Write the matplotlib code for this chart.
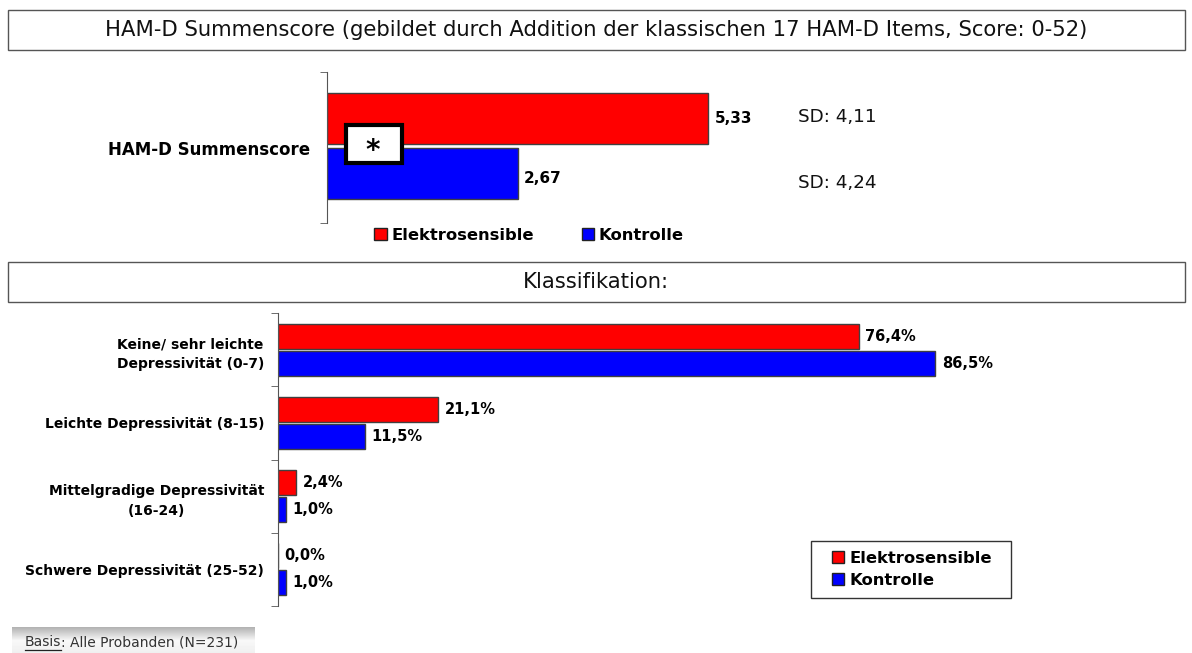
import matplotlib
matplotlib.use("Agg")
import matplotlib.pyplot as plt
import numpy as np
from matplotlib.patches import Rectangle, Patch
from matplotlib.lines import Line2D

# ---------------- data ----------------
title_top = "HAM-D Summenscore (gebildet durch Addition der klassischen 17 HAM-D Items, Score: 0-52)"
title_bottom = "Klassifikation:"
top_category = ["HAM-D Summenscore"]
top_elektro = [5.33]
top_kontrolle = [2.67]
top_sd = ["SD: 4,11", "SD: 4,24"]

categories = ["Keine/ sehr leichte\nDepressivität (0-7)",
              "Leichte Depressivität (8-15)",
              "Mittelgradige Depressivität\n(16-24)",
              "Schwere Depressivität (25-52)"]
elektro_pct = [76.4, 21.1, 2.4, 0.0]
kontrolle_pct = [86.5, 11.5, 1.0, 1.0]
series_names = ["Elektrosensible", "Kontrolle"]
basis_text = ["Basis", ": Alle Probanden (N=231)"]

RED = "#ff0000"
BLUE = "#0000ff"
EDGE = "#404040"
W, H = 1192, 653

def fx(px):
    return px / W

def fy(py):
    return 1 - py / H

def de(v, nd):
    return f"{v:.{nd}f}".replace(".", ",")

fig = plt.figure(figsize=(W / 100, H / 100), dpi=100)
fig.patch.set_facecolor("white")

# ---------------- title boxes ----------------
for (y0, y1, txt) in [(10, 50, title_top), (262, 302, title_bottom)]:
    fig.add_artist(Rectangle((fx(8), fy(y1)), fx(1185) - fx(8), fy(y0) - fy(y1),
                             transform=fig.transFigure, facecolor="white",
                             edgecolor="#555555", linewidth=1.0))
    fig.text(fx(596), fy((y0 + y1) / 2), txt, ha="center", va="center",
             fontsize=15.2, color="#111111")

# ---------------- top chart ----------------
ax1 = fig.add_axes([fx(327), fy(223), fx(786.5), 151 / H])
ax1.set_xlim(0, 11)
ax1.set_ylim(0, 1)
pos = np.arange(len(top_category)) + 0.5
off_r, off_b = 0.189, 0.175
bh = 0.338
b1 = ax1.barh(pos + off_r, top_elektro, height=bh, color=RED, edgecolor=EDGE, linewidth=1)
b2 = ax1.barh(pos - off_b, top_kontrolle, height=bh, color=BLUE, edgecolor=EDGE, linewidth=1)
for rect, v in zip(b1, top_elektro):
    ax1.annotate(de(v, 2), (v, rect.get_y() + rect.get_height() / 2), xytext=(4.5, 0),
                 textcoords="offset points", ha="left", va="center",
                 fontsize=11, fontweight="bold")
for rect, v in zip(b2, top_kontrolle):
    ax1.annotate(de(v, 2), (v, rect.get_y() + rect.get_height() / 2), xytext=(4.5, -3),
                 textcoords="offset points", ha="left", va="center",
                 fontsize=11, fontweight="bold")
sd_x = (798 - 327) / 71.5
ax1.annotate(top_sd[0], (sd_x, pos[0] + off_r), xytext=(0, 1.5),
             textcoords="offset points", ha="left", va="center", fontsize=13.2,
             color="#111111")
ax1.annotate(top_sd[1], (sd_x, pos[0] - off_b), xytext=(0, -6.5),
             textcoords="offset points", ha="left", va="center", fontsize=13.2,
             color="#111111")
for s in ["top", "right", "bottom"]:
    ax1.spines[s].set_visible(False)
ax1.spines["left"].set_color("#555555")
ax1.set_xticks([])
ax1.set_yticks(pos)
ax1.set_yticklabels(top_category, fontsize=12, fontweight="bold")
ax1.tick_params(axis="y", length=0, pad=12)
ax1.set_yticks([0, 1], minor=True)
ax1.tick_params(axis="y", which="minor", length=5, color="#555555")

# star box
fig.add_artist(Rectangle((fx(346), fy(163)), fx(56), 38 / H, transform=fig.transFigure,
                         facecolor="white", edgecolor="black", linewidth=3, zorder=5))
fig.text(fx(373), fy(159), "*", ha="center", va="baseline", fontsize=20,
         fontweight="bold", zorder=6)

handles = [Patch(facecolor=RED, edgecolor="#222222", linewidth=1),
           Patch(facecolor=BLUE, edgecolor="#222222", linewidth=1)]
leg1 = fig.legend(handles, series_names, loc="center", bbox_to_anchor=(fx(529), fy(235)),
                  ncol=2, frameon=False, handlelength=0.75, handleheight=0.75,
                  handletextpad=0.3, columnspacing=2.9, borderpad=0, borderaxespad=0,
                  prop={"size": 11.8, "weight": "bold"})

# ---------------- bottom chart ----------------
ax2 = fig.add_axes([fx(278), fy(606), fx(760), 293 / H])
ax2.set_xlim(0, 100)
n = len(categories)
y = np.arange(n)
ax2.set_ylim(n - 0.5, -0.5)
off2 = 0.184
bh2 = 0.34
r1 = ax2.barh(y - off2, elektro_pct, height=bh2, color=RED, edgecolor=EDGE, linewidth=1)
r2 = ax2.barh(y + off2, kontrolle_pct, height=bh2, color=BLUE, edgecolor=EDGE, linewidth=1)
for bars, vals in [(r1, elektro_pct), (r2, kontrolle_pct)]:
    for rect, v in zip(bars, vals):
        ax2.annotate(de(v, 1) + "%", (v, rect.get_y() + rect.get_height() / 2),
                     xytext=(4.5, 0), textcoords="offset points", ha="left",
                     va="center", fontsize=10.5, fontweight="bold")
for s in ["top", "right", "bottom"]:
    ax2.spines[s].set_visible(False)
ax2.spines["left"].set_color("#555555")
ax2.set_xticks([])
ax2.set_yticks(y)
ax2.set_yticklabels(categories, fontsize=10, fontweight="bold",
                    multialignment="center", linespacing=1.55)
ax2.tick_params(axis="y", length=0, pad=10)
ax2.set_yticks(np.arange(n + 1) - 0.5, minor=True)
ax2.tick_params(axis="y", which="minor", length=5, color="#555555")

fig.add_artist(Rectangle((fx(811), fy(598)), fx(200), 57 / H, transform=fig.transFigure,
                         facecolor="white", edgecolor="#333333", linewidth=1.0, zorder=3))
leg2 = fig.legend(handles, series_names, loc="center", bbox_to_anchor=(fx(912), fy(569.5)),
                  ncol=1, frameon=False, handlelength=0.75,
                  handleheight=0.75, handletextpad=0.3, labelspacing=0.45,
                  borderpad=0, borderaxespad=0,
                  prop={"size": 11.8, "weight": "bold"})
leg2.set_zorder(4)

# ---------------- basis box ----------------
axb = fig.add_axes([fx(12), fy(653), fx(243), 26 / H])
grad = np.concatenate([np.linspace(0.70, 0.97, 14), np.linspace(0.97, 0.94, 12)])
axb.imshow(np.tile(grad[:, None], (1, 50)), cmap="gray", vmin=0, vmax=1,
           aspect="auto", extent=(0, 1, 0, 1), origin="upper")
axb.set_axis_off()
t1 = fig.text(fx(25), fy(642), basis_text[0], ha="left", va="center", fontsize=10,
              color="#333333")
fig.canvas.draw()
bb = t1.get_window_extent()
t2 = fig.text(bb.x1 / W, fy(642), basis_text[1], ha="left", va="center", fontsize=10,
              color="#333333")
fig.add_artist(Line2D([bb.x0 / W, bb.x1 / W], [(bb.y0 - 0.5) / H] * 2,
                      transform=fig.transFigure, color="#222222", linewidth=0.9))

fig.savefig("out.png", dpi=100)
